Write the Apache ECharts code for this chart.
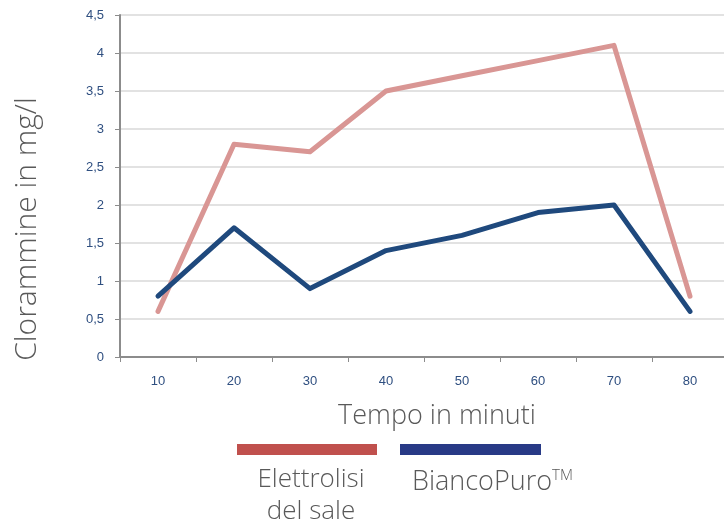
<!DOCTYPE html>
<html>
<head>
<meta charset="utf-8">
<script src="https://cdn.jsdelivr.net/npm/echarts@6/dist/echarts.min.js"></script>
<style>
html,body{margin:0;padding:0;background:#fff;}
#chart{width:724px;height:526px;}
</style>
</head>
<body>
<div id="chart"></div>
<script>
var minuti=['10','20','30','40','50','60','70','80'];
var elettrolisi=[0.6,2.8,2.7,3.5,3.7,3.9,4.1,0.8];
var biancoPuro=[0.8,1.7,0.9,1.4,1.6,1.9,2.0,0.6];
var yTicks={min:0,max:4.5,step:0.5};

var chart=echarts.init(document.getElementById('chart'));
var grey='#595959',tickBlue='#2F4F80',font='Open Sans';

chart.setOption({
    animation:false,
    grid:{left:120,top:15,width:608,height:342,outerBoundsMode:'none'},
    xAxis:{
        type:'category',
        data:minuti,
        boundaryGap:true,
        axisLine:{lineStyle:{color:'#8c8c8c',width:2}},
        axisTick:{show:true,length:5,lineStyle:{color:'#8c8c8c',width:1}},
        axisLabel:{color:tickBlue,fontSize:13,fontFamily:'Liberation Sans',margin:18}
    },
    yAxis:{
        type:'value',
        min:yTicks.min,max:yTicks.max,interval:yTicks.step,
        axisLine:{show:true,lineStyle:{color:'#8c8c8c',width:2}},
        axisTick:{show:true,length:5,lineStyle:{color:'#8c8c8c',width:1}},
        splitLine:{lineStyle:{color:'#d9d9d9',width:1.5}},
        axisLabel:{
            color:tickBlue,fontSize:13,fontFamily:'Liberation Sans',margin:16,
            formatter:function(v){return String(v).replace('.',',');}
        }
    },
    series:[
        {
            name:'Elettrolisi del sale',type:'line',data:elettrolisi,
            showSymbol:false,symbol:'none',
            lineStyle:{color:'#D99694',width:5,cap:'round',join:'round'}
        },
        {
            name:'BiancoPuro™',type:'line',data:biancoPuro,
            showSymbol:false,symbol:'none',
            lineStyle:{color:'#1F497D',width:5,cap:'round',join:'round'}
        }
    ],
    graphic:[
        {type:'text',x:27,y:229,rotation:Math.PI/2,style:{text:'Clorammine in mg/l',fill:grey,fontFamily:font,fontSize:30,fontWeight:300,align:'center',verticalAlign:'middle'}},
        {type:'text',x:437,y:416,style:{text:'Tempo in minuti',fill:grey,fontFamily:font,fontSize:27,fontWeight:300,align:'center',verticalAlign:'middle'}},
        {type:'rect',shape:{x:237,y:444,width:140,height:11},style:{fill:'#C0504D'}},
        {type:'rect',shape:{x:400,y:444,width:141,height:11},style:{fill:'#283A86'}},
        {type:'text',x:311,y:496,style:{text:'Elettrolisi\ndel sale',fill:grey,fontFamily:font,fontSize:26,fontWeight:300,align:'center',verticalAlign:'middle',lineHeight:32}},
        {type:'text',x:412,y:482,style:{
            text:'{a|BiancoPuro}{b|TM}',align:'left',verticalAlign:'middle',
            rich:{
                a:{fill:grey,fontFamily:font,fontSize:27,fontWeight:300},
                b:{fill:grey,fontFamily:font,fontSize:15,fontWeight:300,verticalAlign:'top',padding:[0,0,12,0]}
            }
        }}
    ]
});
</script>
</body>
</html>
